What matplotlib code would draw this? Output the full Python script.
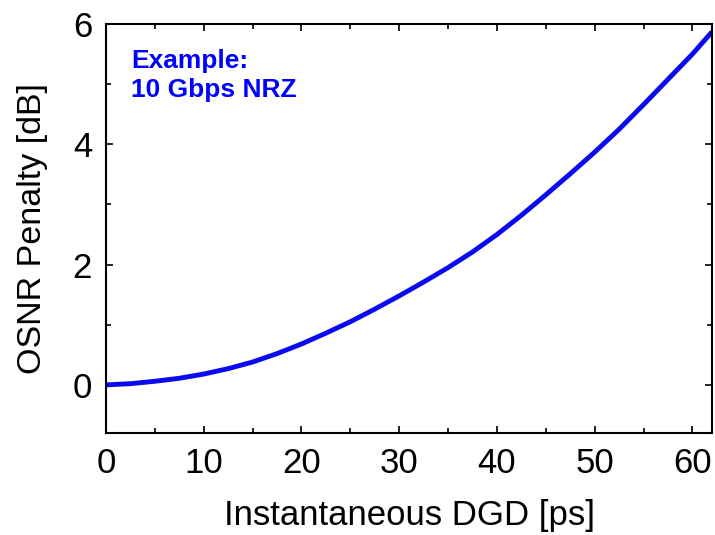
import matplotlib
matplotlib.use("Agg")
import matplotlib.pyplot as plt
from matplotlib.ticker import MultipleLocator

plt.rcParams['font.family'] = ['Liberation Sans', 'DejaVu Sans']

# Data
dgd_ps = [0, 2.5, 5, 7.5, 10, 12.5, 15, 17.5, 20, 22.5, 25, 27.5, 30, 32.5,
          35, 37.5, 40, 42.5, 45, 47.5, 50, 52.5, 55, 57.5, 60, 62]
osnr_penalty_db = [0.0, 0.02, 0.06, 0.11, 0.18, 0.27, 0.38, 0.52, 0.68, 0.86,
                   1.05, 1.26, 1.48, 1.71, 1.95, 2.21, 2.50, 2.82, 3.16, 3.51,
                   3.87, 4.25, 4.66, 5.08, 5.50, 5.87]

fig = plt.figure(figsize=(7.15, 5.35), dpi=100)
ax = fig.add_axes([106 / 715, 1 - 433 / 535, 606 / 715, 409 / 535])

ax.plot(dgd_ps, osnr_penalty_db, color='#0a0af0', lw=3.5, solid_capstyle='butt')

ax.set_xlim(0, 62)
ax.set_ylim(-0.8, 6)
ax.xaxis.set_major_locator(MultipleLocator(10))
ax.xaxis.set_minor_locator(MultipleLocator(5))
ax.yaxis.set_major_locator(MultipleLocator(2))
ax.yaxis.set_minor_locator(MultipleLocator(1))
ax.tick_params(which='both', direction='in', top=True, right=True, width=1.2)
ax.tick_params(which='major', length=5, labelsize=25, pad=10)
ax.tick_params(which='minor', length=3.5)
for s in ax.spines.values():
    s.set_linewidth(1.5)

ax.set_xlabel("Instantaneous DGD [ps]", fontsize=25, labelpad=14)
ax.set_ylabel("OSNR Penalty [dB]", fontsize=24.5, labelpad=18)

ax.text(0.042, 0.94, "Example:\n10 Gbps NRZ", transform=ax.transAxes,
        color='#0000ff', fontsize=19, fontweight='bold', va='top', ha='left',
        linespacing=1.3)

fig.savefig("out.png", dpi=100)
